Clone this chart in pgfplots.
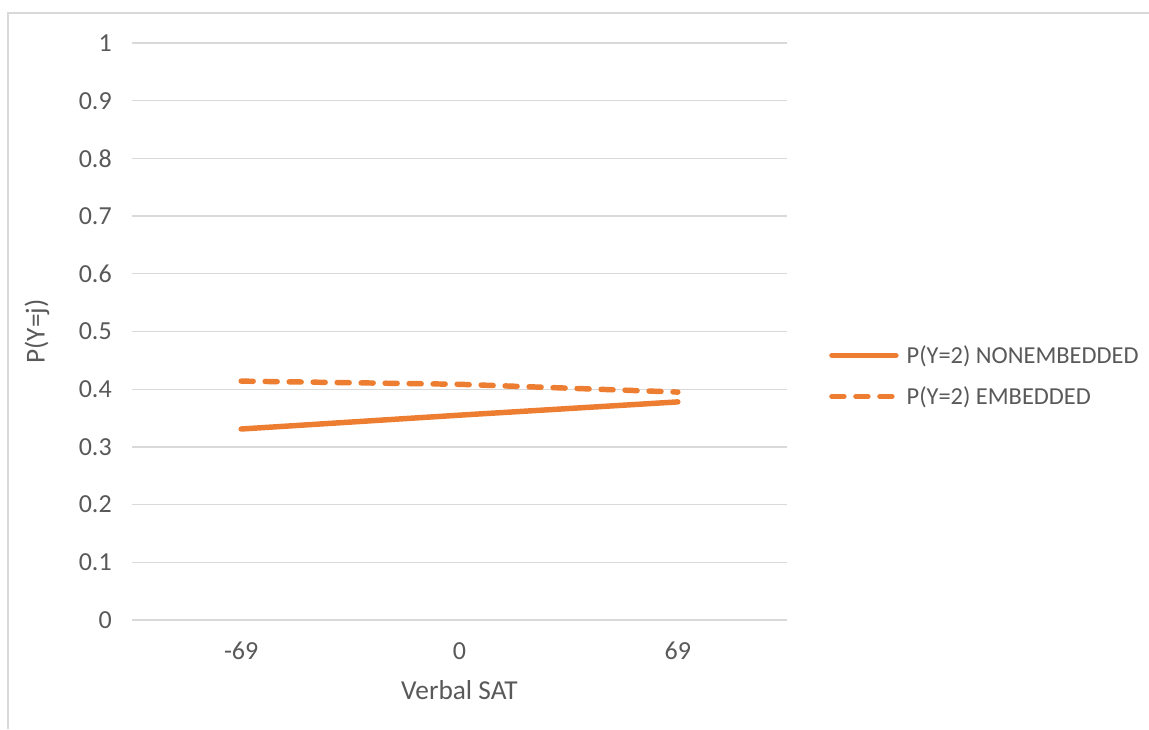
\documentclass[border=0pt]{standalone}
\usepackage{pgfplots}
\pgfplotsset{compat=1.18}
\usepackage{fontspec}
\setmainfont{Carlito}
\definecolor{xlorange}{RGB}{237,125,49}
\definecolor{xlgrid}{RGB}{217,217,217}
\definecolor{xltext}{RGB}{89,89,89}
\begin{document}
\begin{tikzpicture}
\useasboundingbox (0pt,0pt) rectangle (861.75pt,546.75pt);
\draw[xlgrid, line width=1.1pt] (6pt,0pt) -- (6pt,537pt) -- (861.75pt,537pt);
\begin{axis}[
  at={(99pt,81.75pt)}, anchor=south west,
  scale only axis, width=491.25pt, height=432.75pt,
  xmin=-0.5, xmax=2.5, ymin=0, ymax=1,
  xtick={0,1,2}, xticklabels={-69,0,69},
  ytick={0,0.1,...,1.01},
  yticklabels={0,0.1,0.2,0.3,0.4,0.5,0.6,0.7,0.8,0.9,1},
  axis line style={draw=none},
  major tick length=0pt,
  ymajorgrids, grid style={xlgrid, line width=0.9pt},
  /pgf/number format/assume math mode=true,
  tick label style={font=\fontsize{19.5}{23}\selectfont, text=xltext},
  yticklabel style={anchor=east, inner sep=0pt, xshift=-15pt},
  xticklabel style={anchor=center, inner sep=0pt, yshift=-23.25pt},
  xlabel={Verbal SAT}, ylabel={P(Y=j)},
  label style={font=\fontsize{20.5}{24}\selectfont, text=xltext},
  xlabel style={at={(axis description cs:0.5,-0.121)}, anchor=center, inner sep=0pt},
  ylabel style={at={(axis description cs:-0.145,0.5)}, anchor=center, inner sep=0pt},
  legend style={draw=none, fill=none, at={(1.064,0.423)}, anchor=west,
    inner sep=0pt, row sep=12pt, font=\fontsize{18.3}{22}\selectfont, text=xltext,
    nodes={inner xsep=0pt, inner ysep=2pt}},
  legend cell align=left,
  legend image code/.code={\draw[#1] (0pt,0pt) -- (48pt,0pt);},
]
\addplot[xlorange, line width=4.1pt, line cap=round] coordinates {(0,0.331) (1,0.355) (2,0.378)};
\addlegendentry{\hspace{6pt}P(Y=2) NONEMBEDDED}
\addplot[xlorange, line width=4.1pt, line cap=round, dash pattern=on 9pt off 9pt] coordinates {(0,0.414) (1,0.4085) (2,0.395)};
\addlegendentry{\hspace{6pt}P(Y=2) EMBEDDED}
\end{axis}
\end{tikzpicture}
\end{document}
